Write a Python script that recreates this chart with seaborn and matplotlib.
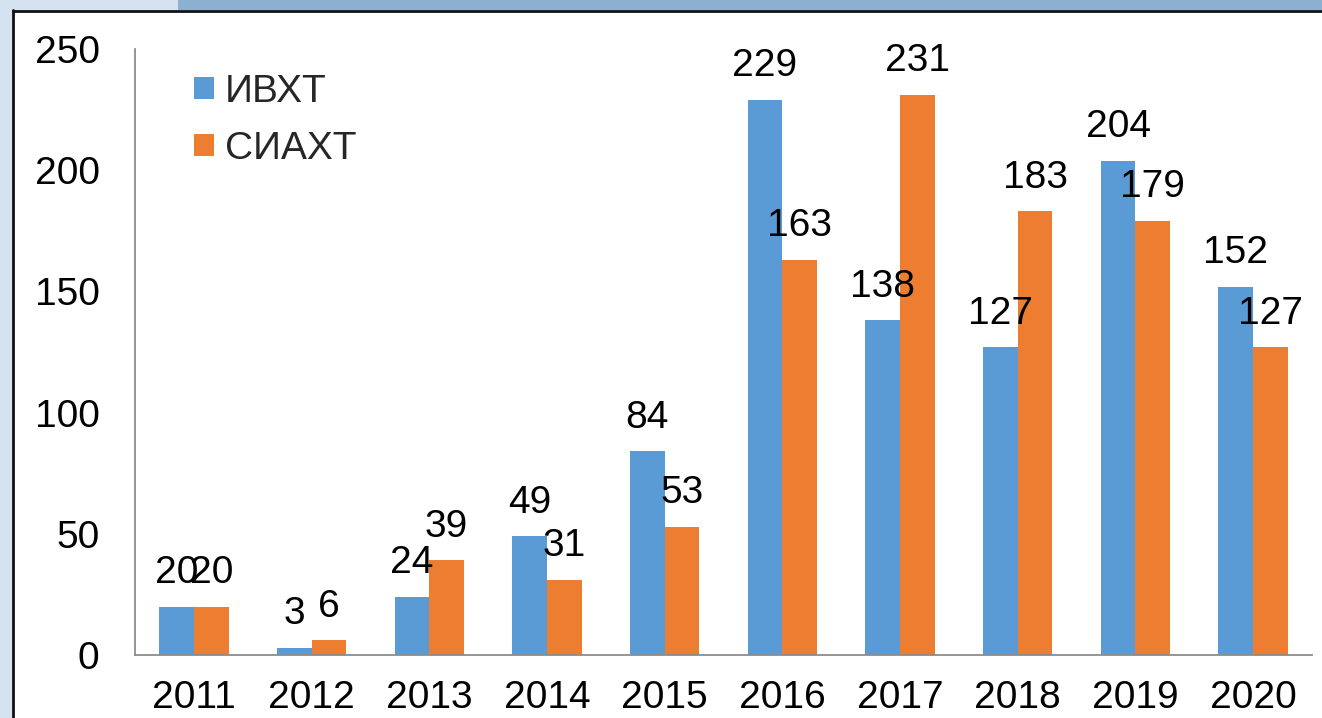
import matplotlib
matplotlib.use("Agg")
import matplotlib.pyplot as plt
from matplotlib.patches import Rectangle
from matplotlib.lines import Line2D
import seaborn as sns
import pandas as pd

years = ["2011", "2012", "2013", "2014", "2015", "2016", "2017", "2018", "2019", "2020"]
ivht = [20, 3, 24, 49, 84, 229, 138, 127, 204, 152]
siaht = [20, 6, 39, 31, 53, 163, 231, 183, 179, 127]
series_names = ["ИВХТ", "СИАХТ"]
yticks = [0, 50, 100, 150, 200, 250]

colors = ["#5b9bd5", "#ed7d31"]
axis_gray = "#8c8c8c"
FS = 28

sns.set_theme(style="white")
plt.rcParams["font.family"] = ["Liberation Sans", "DejaVu Sans"]

df = pd.DataFrame({
    "year": years * 2,
    "value": ivht + siaht,
    "series": [series_names[0]] * len(years) + [series_names[1]] * len(years),
})

fig = plt.figure(figsize=(13.22, 7.18), dpi=100)
W, H = 1322, 718

# slide frame: coloured strips along the top and left, with dark border lines
fig.patches.append(Rectangle((0, 1 - 10 / H), 178 / W, 10 / H, transform=fig.transFigure,
                             facecolor="#d5e2ef", edgecolor="none", zorder=0))
fig.patches.append(Rectangle((178 / W, 1 - 10 / H), 1 - 178 / W, 10 / H, transform=fig.transFigure,
                             facecolor="#8eb0d0", edgecolor="none", zorder=0))
fig.patches.append(Rectangle((0, 0), 13 / W, 1 - 10 / H, transform=fig.transFigure,
                             facecolor="#d5e2ef", edgecolor="none", zorder=0))
fig.lines.append(Line2D([13 / W, 13 / W], [0, 1 - 10 / H], transform=fig.transFigure,
                        color="#111111", linewidth=2))
fig.lines.append(Line2D([13 / W, 1], [1 - 11 / H, 1 - 11 / H], transform=fig.transFigure,
                        color="#111111", linewidth=2))

ax = fig.add_axes([135 / W, 63 / H, (1312 - 135) / W, (655 - 49) / H])
ax.set_facecolor("none")

sns.barplot(data=df, x="year", y="value", hue="series", order=years,
            hue_order=series_names, palette=colors, width=0.59, saturation=1,
            edgecolor="none", ax=ax)

ax.set_ylim(0, 250)
ax.set_xlim(-0.5, len(years) - 0.5)
ax.set_yticks(yticks)
ax.set_yticklabels([str(t) for t in yticks])
ax.set_xlabel("")
ax.set_ylabel("")

for side in ["top", "right"]:
    ax.spines[side].set_visible(False)
for side in ["left", "bottom"]:
    ax.spines[side].set_color(axis_gray)
    ax.spines[side].set_linewidth(1.3)

# category boundary ticks on the x axis
ax.set_xticks([i - 0.5 for i in range(len(years) + 1)], minor=True)
ax.tick_params(axis="x", which="major", length=0, pad=18, labelsize=FS, labelcolor="black")
ax.tick_params(axis="x", which="minor", length=7, width=1.3, color=axis_gray, direction="out")
ax.tick_params(axis="y", length=9.5, width=1.3, color=axis_gray, direction="out",
               pad=16, labelsize=FS, labelcolor="black")

# value labels above each bar
for container, values in zip(ax.containers, [ivht, siaht]):
    for patch, v in zip(container.patches, values):
        ax.annotate(str(v), (patch.get_x() + patch.get_width() / 2, v),
                    xytext=(0, 17), textcoords="offset points",
                    ha="center", va="baseline", fontsize=FS, color="black",
                    zorder=5, annotation_clip=False)

handles = [Rectangle((0, 0), 1, 1, facecolor=c, edgecolor="none") for c in colors]
ax.legend(handles, series_names, loc="upper left", bbox_to_anchor=(0.037, 0.985),
          frameon=False, fontsize=FS, handlelength=0.5, handleheight=0.5,
          handletextpad=0.3, labelspacing=0.55, borderaxespad=0)

fig.savefig("out.png", dpi=100, facecolor="white")
